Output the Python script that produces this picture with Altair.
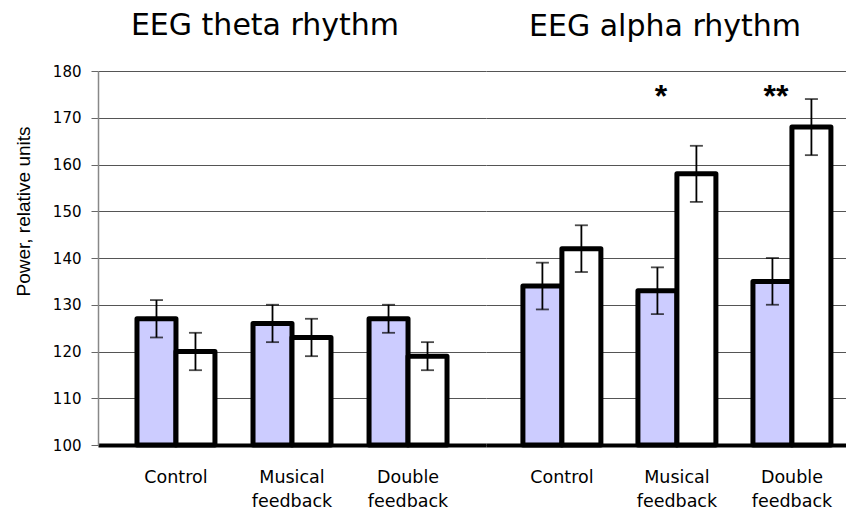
import altair as alt
import pandas as pd

# ---- data ----
conditions = ["Control", "Musical feedback", "Double feedback"]
series = ["filled", "open"]
theta_filled = [127, 126, 127]
theta_filled_err = [4, 4, 3]
theta_open = [120, 123, 119]
theta_open_err = [4, 4, 3]
alpha_filled = [134, 133, 135]
alpha_filled_err = [5, 5, 5]
alpha_open = [142, 158, 168]
alpha_open_err = [5, 6, 6]
stars = ["", "*", "**"]
star_level = 175.5
y_ticks = [100, 110, 120, 130, 140, 150, 160, 170, 180]

def build(vals_a, err_a, vals_b, err_b):
    rows = []
    for i, c in enumerate(conditions):
        for s, v, e in ((series[0], vals_a[i], err_a[i]), (series[1], vals_b[i], err_b[i])):
            rows.append({"condition": c, "series": s, "value": v, "lo": v - e, "hi": v + e})
    return pd.DataFrame(rows)

theta_df = build(theta_filled, theta_filled_err, theta_open, theta_open_err)
alpha_df = build(alpha_filled, alpha_filled_err, alpha_open, alpha_open_err)
star_df = pd.DataFrame({"condition": conditions, "label": stars, "level": [star_level] * 3})
star_df = star_df[star_df["label"] != ""]

FONT = "Liberation Sans"
WIDE = "DejaVu Sans"
yscale = alt.Scale(domain=[100, 180], nice=False, zero=False)
cscale = alt.Scale(domain=series, range=["#CCCCFF", "#FFFFFF"])


def panel(df, title, width, pad_inner, pad_outer, align, show_y, title_dx, title_offset, with_stars):
    xenc = alt.X(
        "condition:N",
        sort=conditions,
        scale=alt.Scale(paddingInner=pad_inner, paddingOuter=pad_outer, align=align),
        axis=alt.Axis(
            title=None, labelAngle=0, ticks=False, domainColor="black", domainWidth=4,
            labelExpr="split(datum.label, ' ')", labelFontSize=17.5, labelFont=WIDE,
            labelColor="black", labelPadding=23, labelLineHeight=24,
        ),
    )
    if show_y:
        yaxis = alt.Axis(
            values=y_ticks, title="Power, relative units", titleFontSize=19, titleFont=FONT,
            titleFontWeight="normal", titleColor="black", titlePadding=19, titleY=140,
            labelFontSize=15, labelFont=WIDE, labelColor="black", labelPadding=10,
            tickSize=7, tickColor="#666", domainColor="#888", domainWidth=1.5,
            gridColor="#555", gridWidth=1,
        )
    else:
        yaxis = alt.Axis(values=y_ticks, title=None, labels=False, ticks=False, domain=False,
                         gridColor="#555", gridWidth=1)
    base = alt.Chart(df)
    bars = base.mark_bar(stroke="black", strokeWidth=5, strokeJoin="round").encode(
        x=xenc,
        xOffset=alt.XOffset("series:N", sort=series),
        y=alt.Y("value:Q", scale=yscale, axis=yaxis),
        y2=alt.Y2(datum=100),
        fill=alt.Fill("series:N", scale=cscale, legend=None),
    )
    err = base.mark_rule(color="black", strokeWidth=1.8).encode(
        x=alt.X("condition:N", sort=conditions),
        xOffset=alt.XOffset("series:N", sort=series),
        y="lo:Q", y2="hi:Q",
    )
    cap_lo = base.mark_tick(color="black", size=13, thickness=1.8).encode(
        x=alt.X("condition:N", sort=conditions),
        xOffset=alt.XOffset("series:N", sort=series),
        y="lo:Q",
    )
    cap_hi = base.mark_tick(color="black", size=13, thickness=1.8).encode(
        x=alt.X("condition:N", sort=conditions),
        xOffset=alt.XOffset("series:N", sort=series),
        y="hi:Q",
    )
    layers = [bars, err, cap_lo, cap_hi]
    if with_stars:
        txt = alt.Chart(star_df).mark_text(
            fontSize=32, fontWeight="bold", font=FONT, color="black", dx=-16, dy=5,
            baseline="middle"
        ).encode(x=alt.X("condition:N", sort=conditions), y="level:Q", text="label:N")
        layers.append(txt)
    return alt.layer(*layers).properties(
        width=width, height=374,
        title=alt.TitleParams(title, fontSize=30, font=WIDE, fontWeight="normal",
                              color="black", anchor="middle", dx=title_dx, offset=title_offset),
    )


left = panel(theta_df, "EEG theta rhythm", 388, 0.328, 0.336, 0.5, True, -27, 23, False)
right = panel(alpha_df, "EEG alpha rhythm", 360, 0.322, 0.226, 0.71, False, -1, 29, True)

chart = alt.hconcat(left, right, spacing=0).resolve_scale(x="independent").properties(
    padding={"left": 6, "top": 3, "right": 0, "bottom": 0}
).configure_view(stroke=None).configure_concat(spacing=0)

chart.save("out.html", embed_options={"renderer": "svg", "actions": False})
